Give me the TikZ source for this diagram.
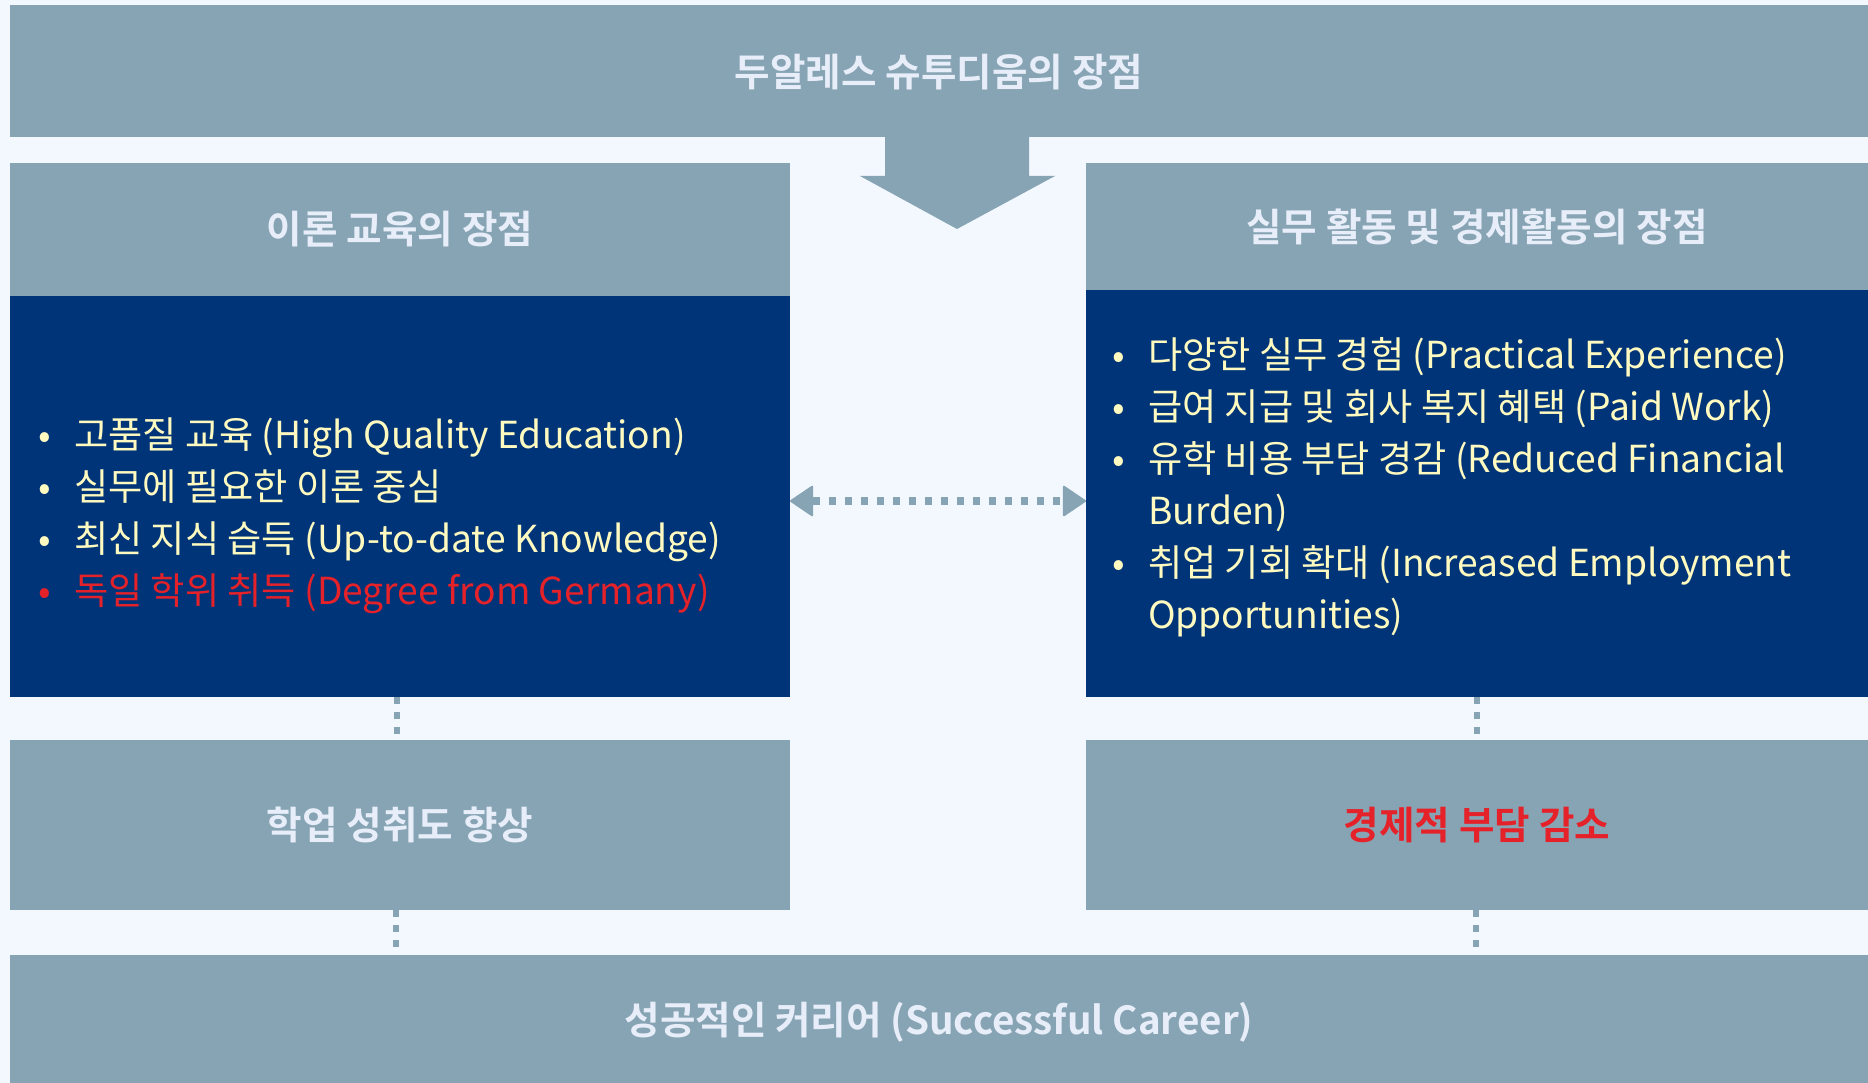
\documentclass[tikz,border=0pt]{standalone}
\usepackage{fontspec}
\setmainfont{Noto Sans CJK KR}[BoldFont={Noto Sans CJK KR Bold}]
\usetikzlibrary{arrows.meta}
\definecolor{bg}{HTML}{F3F8FE}
\definecolor{slate}{HTML}{87A4B4}
\definecolor{navy}{HTML}{003478}
\definecolor{hdtext}{HTML}{E8EEF9}
\definecolor{ytext}{HTML}{FFFAC0}
\definecolor{rtext}{HTML}{E52129}
\newcommand\bul{\makebox[28pt][c]{•}\hspace{15pt}}
\newcommand\cont{\hspace*{43pt}}
\begin{document}
\begin{tikzpicture}[x=1pt,y=-1pt,
  box/.style={fill=slate, draw=none, inner sep=0pt, outer sep=0pt, anchor=north west,
    text=hdtext, font=\fontsize{38.6}{44}\selectfont\bfseries},
  body/.style={fill=navy, draw=none, inner sep=0pt, outer sep=0pt, anchor=north west},
  listtext/.style={text=ytext, align=left, anchor=west, inner sep=0pt,
    font=\fontsize{37.2}{52}\selectfont},
  vconn/.style={draw=slate, line width=6.5pt, dash pattern=on 7pt off 8pt},
  hconn/.style={draw=slate, line width=7.5pt, dash pattern=on 7.5pt off 8.5pt,
    >={Triangle[width=32pt,length=24pt,round,line width=2pt]}, <->}
]
\useasboundingbox (0,0) rectangle (1868,1083);
\fill[bg] (0,0) rectangle (1868,1083);

% top
\node[box, minimum width=1858pt, minimum height=132pt] (top) at (10,5) {\raisebox{-1.2pt}[\height][\depth]{두알레스 슈투디움의 장점}};
% big arrow
\fill[slate] (885,137) -- (885,176) -- (860,176) -- (957,229) -- (1055,176) -- (1029,176) -- (1029,137) -- cycle;

% left column
\node[box, minimum width=780pt, minimum height=133pt] (lhead) at (10,163) {이론 교육의 장점};
\node[body, minimum width=780pt, minimum height=401pt] (lbody) at (10,296) {};
\node[listtext] (llist) at (31,515.5) {%
\bul 고품질 교육 (High Quality Education)\\
\bul 실무에 필요한 이론 중심\\
\bul 최신 지식 습득 (Up-to-date Knowledge)\\
{\color{rtext}\bul 독일 학위 취득 (Degree from Germany)}};

% right column
\node[box, minimum width=782pt, minimum height=127pt] (rhead) at (1086,163) {실무 활동 및 경제활동의 장점};
\node[body, minimum width=782pt, minimum height=407pt] (rbody) at (1086,290) {};
\node[listtext] (rlist) at (1105,487.5) {%
\bul 다양한 실무 경험 (Practical Experience)\\
\bul 급여 지급 및 회사 복지 혜택 (Paid Work)\\
\bul 유학 비용 부담 경감 (Reduced Financial\\
\cont Burden)\\
\bul 취업 기회 확대 (Increased Employment\\
\cont Opportunities)};

% results
\node[box, minimum width=780pt, minimum height=170pt] (lres) at (10,740) {학업 성취도 향상};
\node[box, minimum width=782pt, minimum height=170pt, text=rtext] (rres) at (1086,740) {경제적 부담 감소};
\node[box, minimum width=1858pt, minimum height=128pt] (career) at (10,955) {\raisebox{-3.6pt}[\height][\depth]{성공적인 커리어 (Successful Career)}};

% connectors
\coordinate (my) at (0,501);
\draw[hconn] (lbody.east |- my) -- (rbody.west |- my);
\draw[vconn] ([xshift=-3pt]lbody.south) -- ([xshift=-3pt]lres.north);
\draw[vconn] (rbody.south) -- (rres.north);
\draw[vconn] ([xshift=-4pt]lres.south) -- ([xshift=-4pt]lres.south |- career.north);
\draw[vconn] ([xshift=-1pt]rres.south) -- ([xshift=-1pt]rres.south |- career.north);
\end{tikzpicture}
\end{document}
